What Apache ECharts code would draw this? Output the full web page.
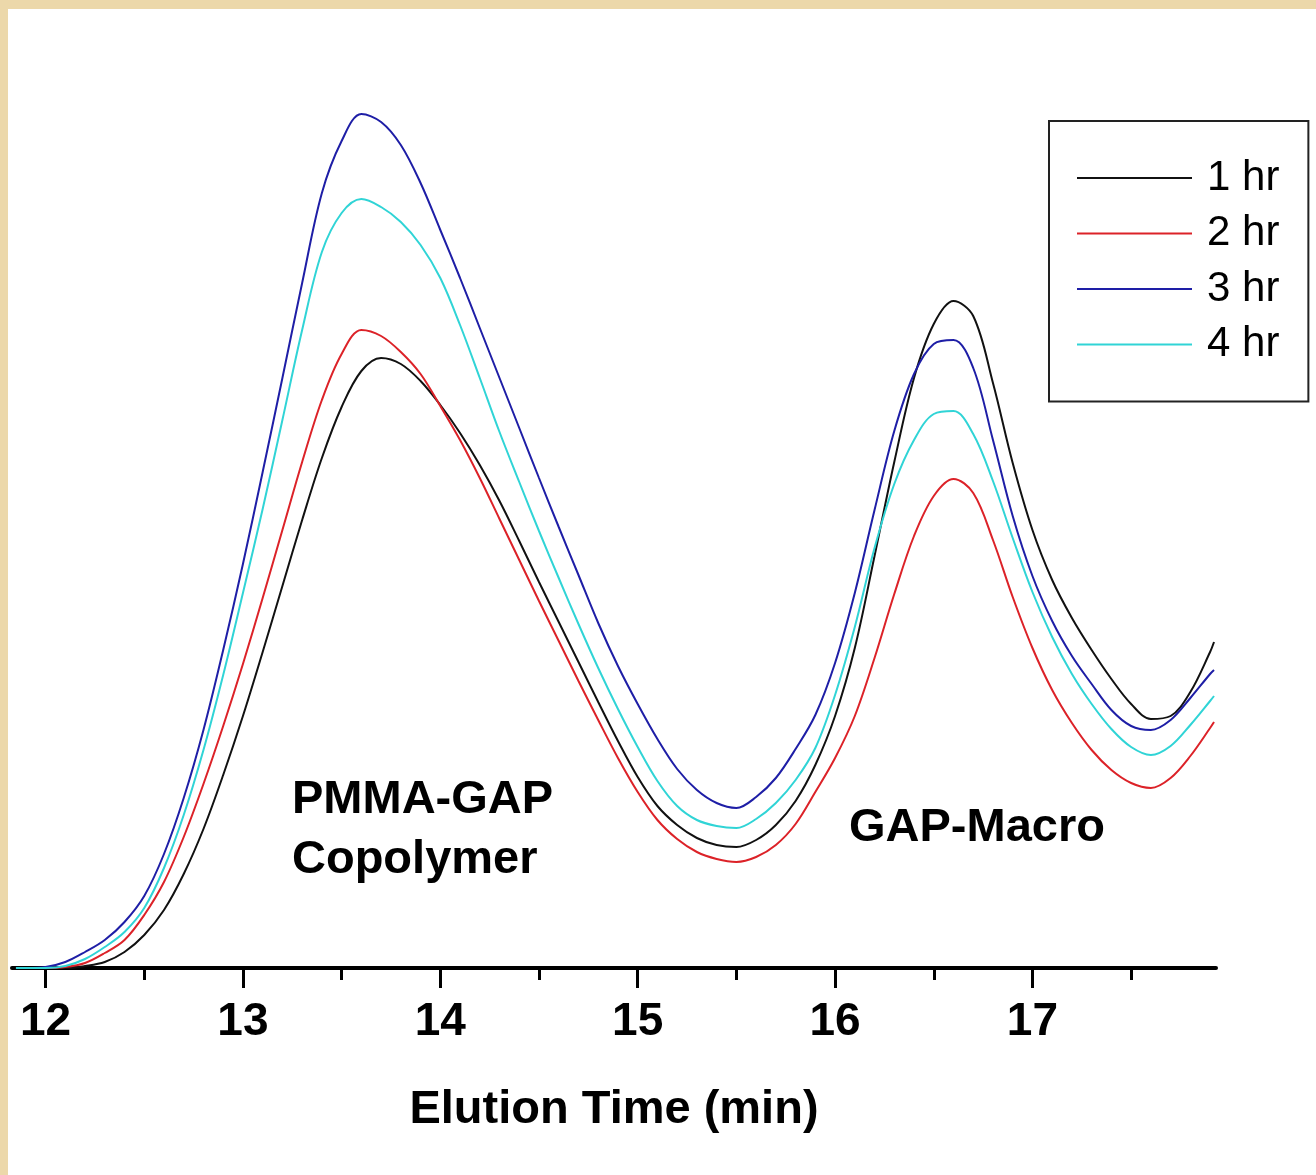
<!DOCTYPE html>
<html>
<head>
<meta charset="utf-8">
<script src="https://cdn.jsdelivr.net/npm/echarts@6/dist/echarts.min.js"></script>
<style>
  html, body { margin: 0; padding: 0; }
  body { width: 1316px; height: 1175px; background: #ecd8aa; position: relative; overflow: hidden; }
  #panel { position: absolute; left: 8px; top: 9px; right: 0; bottom: 0; background: #ffffff; }
  #chart { position: absolute; left: 0; top: 0; width: 1316px; height: 1175px; }
</style>
</head>
<body>
<div id="panel"></div>
<div id="chart"></div>
<script>
// Elution time (min)
const times = [11.85, 11.9, 12.0, 12.1, 12.2, 12.3, 12.4, 12.5, 12.6, 12.7, 12.8, 12.9,
  13.0, 13.1, 13.2, 13.3, 13.4, 13.5, 13.6, 13.7, 13.8, 13.9,
  14.0, 14.1, 14.2, 14.3, 14.4, 14.5, 14.6, 14.7, 14.8, 14.9,
  15.0, 15.1, 15.2, 15.3, 15.4, 15.5, 15.6, 15.7, 15.8, 15.9,
  16.0, 16.1, 16.2, 16.3, 16.4, 16.5, 16.6, 16.7, 16.8, 16.9,
  17.0, 17.1, 17.2, 17.3, 17.4, 17.5, 17.6, 17.7, 17.8, 17.9, 17.92];

// Detector response (arbitrary units)
const hr1 = [0, 0, 0, 0, 2, 6, 16, 33, 58, 94, 139, 193,
  252, 316, 382, 448, 510, 561, 597, 610, 604, 587,
  563, 535, 503, 467, 427, 386, 346, 306, 266, 227,
  191, 162, 143, 130, 123, 121, 128, 143, 167, 203,
  252, 320, 412, 506, 590, 644, 667, 652, 585, 505,
  438, 388, 350, 318, 289, 264, 249, 252, 276, 316, 326];

const hr2 = [0, 0, 0, 1, 5, 15, 28, 53, 86, 131, 184, 242,
  304, 370, 438, 506, 568, 614, 638, 632, 616, 594,
  562, 528, 490, 449, 408, 367, 327, 287, 248, 210,
  176, 148, 129, 116, 109, 106, 111, 123, 144, 176,
  210, 252, 310, 374, 432, 472, 489, 475, 428, 371,
  320, 278, 245, 218, 198, 185, 180, 190, 212, 240, 246];

const hr3 = [0, 0, 1, 6, 16, 28, 46, 72, 114, 170, 238, 318,
  404, 496, 590, 685, 775, 827, 854, 846, 823, 785,
  738, 690, 640, 590, 540, 490, 441, 393, 345, 302,
  264, 229, 199, 178, 165, 160, 171, 190, 219, 253,
  305, 375, 458, 537, 594, 624, 628, 600, 528, 452,
  392, 347, 312, 284, 258, 242, 238, 248, 270, 294, 298];

const hr4 = [0, 0, 0, 2, 9, 21, 36, 60, 100, 153, 218, 293,
  375, 459, 548, 638, 716, 755, 769, 761, 746, 723,
  690, 643, 590, 536, 486, 437, 390, 344, 300, 259,
  221, 187, 162, 148, 142, 140, 149, 165, 188, 220,
  273, 341, 420, 484, 528, 554, 557, 534, 487, 430,
  376, 331, 294, 264, 239, 221, 213, 222, 243, 267, 272];

const seriesNames = ['1 hr', '2 hr', '3 hr', '4 hr'];
const seriesValues = [hr1, hr2, hr3, hr4];
const seriesColors = ['#111111', '#dc2228', '#1e1ea6', '#30d4d6'];

const majorTicks = [12, 13, 14, 15, 16, 17];
const minorTicks = [12.5, 13.5, 14.5, 15.5, 16.5, 17.5];
const axisTitle = 'Elution Time (min)';
const peakLabels = ['PMMA-GAP', 'Copolymer', 'GAP-Macro'];

const FONT = '"Liberation Sans", Arial, Helvetica, sans-serif';

const chart = echarts.init(document.getElementById('chart'), null, { renderer: 'canvas' });

const series = seriesNames.map((name, k) => ({
  name: name,
  type: 'line',
  data: times.map((t, i) => [t, seriesValues[k][i]]),
  symbol: 'none',
  showSymbol: false,
  smooth: 0.35,
  color: seriesColors[k],
  lineStyle: { width: 2, color: seriesColors[k] },
  itemStyle: { color: seriesColors[k] },
  z: 2 + k,
  silent: true
}));

const option = {
  animation: false,
  backgroundColor: 'transparent',
  grid: { left: 12, right: 100, top: 8, bottom: 207 },
  xAxis: [
    {
      type: 'value',
      min: 11.83,
      max: 17.93,
      position: 'bottom',
      axisLine: { show: true, onZero: false, lineStyle: { color: '#000', width: 4 } },
      axisTick: { show: true, customValues: majorTicks, length: 20, inside: false, lineStyle: { color: '#000', width: 3 } },
      axisLabel: { show: true, customValues: majorTicks, color: '#000', fontSize: 46, fontWeight: 'bold', fontFamily: FONT, margin: 31 },
      splitLine: { show: false },
      name: axisTitle,
      nameLocation: 'middle',
      nameGap: 119,
      nameTextStyle: { color: '#000', fontSize: 47, fontWeight: 'bold', fontFamily: FONT }
    },
    {
      type: 'value',
      min: 11.83,
      max: 17.93,
      position: 'bottom',
      gridIndex: 0,
      axisLine: { show: false },
      axisTick: { show: true, customValues: minorTicks, length: 12, inside: false, lineStyle: { color: '#000', width: 3 } },
      axisLabel: { show: false },
      splitLine: { show: false }
    }
  ],
  yAxis: { type: 'value', min: 0, max: 960, show: false },
  legend: {
    data: seriesNames,
    orient: 'vertical',
    left: 1049,
    top: 121,
    icon: 'rect',
    itemWidth: 115,
    itemHeight: 2,
    itemGap: 13.5,
    padding: [36, 29, 36, 28],
    borderColor: '#222',
    borderWidth: 2,
    backgroundColor: '#ffffff',
    selectedMode: false,
    textStyle: { color: '#000', fontSize: 42, fontFamily: FONT, lineHeight: 42, padding: [0, 0, 0, 10] }
  },
  graphic: [
    { type: 'text', silent: true, style: { text: peakLabels[0], x: 292, y: 800, textAlign: 'left', textVerticalAlign: 'middle', font: 'bold 47px ' + FONT, fill: '#000' } },
    { type: 'text', silent: true, style: { text: peakLabels[1], x: 292, y: 860, textAlign: 'left', textVerticalAlign: 'middle', font: 'bold 47px ' + FONT, fill: '#000' } },
    { type: 'text', silent: true, style: { text: peakLabels[2], x: 849, y: 828, textAlign: 'left', textVerticalAlign: 'middle', font: 'bold 47px ' + FONT, fill: '#000' } }
  ],
  series: series
};

chart.setOption(option);
</script>
</body>
</html>
